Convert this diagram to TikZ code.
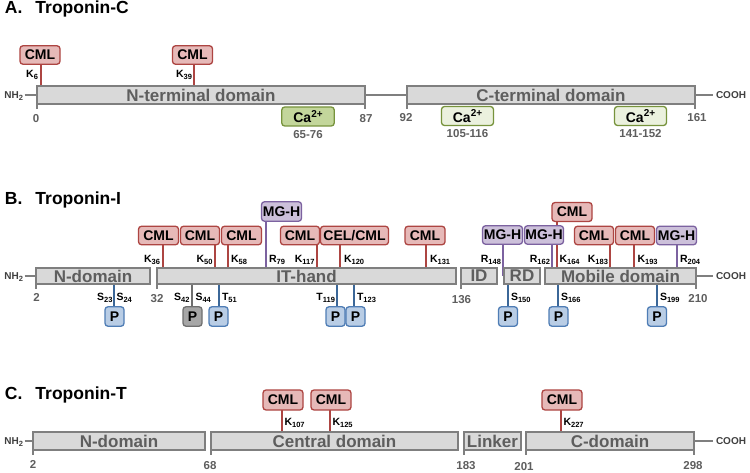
\documentclass[tikz,border=0pt]{standalone}
\usepackage{fontspec}
\setmainfont{Liberation Sans}
\pgfdeclarelayer{bg}
\pgfsetlayers{bg,main}
\definecolor{barfill}{HTML}{D9D9D9}
\definecolor{barline}{HTML}{7F7F7F}
\definecolor{domtext}{HTML}{5E5E5E}
\definecolor{termtext}{HTML}{404040}
\definecolor{cmlfill}{HTML}{E6B9B8}
\definecolor{cmlline}{HTML}{AD4542}
\definecolor{mgfill}{HTML}{CCC0DA}
\definecolor{mgline}{HTML}{7C62A0}
\definecolor{pfill}{HTML}{B9CDE5}
\definecolor{pline}{HTML}{4F7DB5}
\definecolor{pcon}{HTML}{3B6798}
\definecolor{gpfill}{HTML}{A6A6A6}
\definecolor{gpline}{HTML}{6F6F6F}
\definecolor{cadfill}{HTML}{C3D69B}
\definecolor{calfill}{HTML}{EBF1DE}
\definecolor{caline}{HTML}{77933C}
\newcommand\mysub[1]{\raisebox{-0.35ex}{\fontsize{7.5}{7.5}\selectfont #1}}
\newcommand\mysup[1]{\raisebox{0.7ex}{\fontsize{10}{10}\selectfont #1}}
\tikzset{
 every node/.style={inner sep=0pt, outer sep=0pt},
 bar/.style={draw=barline, fill=barfill, line width=1.8pt, text=domtext, font=\bfseries\fontsize{17}{17}\selectfont},
 barl/.style={draw=barline, line width=1.8pt},
 modbox/.style={rounded corners=3pt, line width=1.3pt, font=\bfseries\fontsize{14}{14}\selectfont},
 cml/.style={modbox, draw=cmlline, fill=cmlfill, minimum width=40pt, minimum height=18.5pt},
 mgh/.style={modbox, draw=mgline, fill=mgfill, minimum width=40pt, minimum height=18.5pt},
 pbox/.style={modbox, draw=pline, fill=pfill, minimum width=19pt, minimum height=19.5pt},
 gpbox/.style={modbox, draw=gpline, fill=gpfill, minimum width=19pt, minimum height=19.5pt},
 cad/.style={modbox, draw=caline, fill=cadfill, minimum width=52.5pt, minimum height=19pt},
 cal/.style={modbox, draw=caline, fill=calfill, minimum width=52pt, minimum height=19pt},
 cmlc/.style={draw=cmlline, line width=1.6pt},
 mgc/.style={draw=mgline, line width=1.6pt},
 pc/.style={draw=pcon, line width=1.6pt},
 gpc/.style={draw=gpline, line width=1.6pt},
 site/.style={font=\bfseries\fontsize{10.5}{10.5}\selectfont},
 num/.style={text=domtext, font=\bfseries\fontsize{11.5}{11.5}\selectfont, anchor=base},
 term/.style={text=termtext, font=\bfseries\fontsize{10}{10}\selectfont},
 ttl/.style={font=\bfseries\fontsize{17.5}{17.5}\selectfont, anchor=base west},
}
\begin{document}
\begin{tikzpicture}[x=1pt,y=-1pt]
\useasboundingbox (0,0) rectangle (750,473);
\begin{pgfonlayer}{bg}
 \fill[white] (0,0) rectangle (750,473);
\end{pgfonlayer}

% ---------------- A. Troponin-C ----------------
\node[ttl] (tA) at (5,14) {A.\hspace{13pt}Troponin-C};
\node[bar, minimum width=328pt, minimum height=18pt] (ntd) at (201,95) {N-terminal domain};
\node[bar, minimum width=288pt, minimum height=17.5pt] (ctd) at (551,95) {C-terminal domain};
\node[term, anchor=base east] (nh2A) at (23,99) {NH\mysub{2}};
\node[term, anchor=base west] (coA) at (716,98.5) {COOH};
\node[cml] (c6) at (40,55) {CML};
\node[cml] (c39) at (192.5,55) {CML};
\node[site, anchor=base east] (lK6) at (38,78) {K\mysub{6}};
\node[site, anchor=base east] (lK39) at (192,78) {K\mysub{39}};
\node[cad] (ca1) at (308,116.5) {Ca\mysup{2+}};
\node[cal] (ca2) at (467.5,116) {Ca\mysup{2+}};
\node[cal] (ca3) at (640.5,116) {Ca\mysup{2+}};
\node[num] (r1) at (308,139) {65-76};
\node[num] (r2) at (467.5,138) {105-116};
\node[num] (r3) at (640.5,138) {141-152};
\node[num] (n0) at (36,123) {0};
\node[num] (n87) at (366,123) {87};
\node[num] (n92) at (406,122) {92};
\node[num] (n161) at (697,122) {161};
\coordinate (s6) at (41,95);
\coordinate (s39) at (194,95);

% ---------------- B. Troponin-I ----------------
\node[ttl] (tB) at (5,205) {B.\hspace{13pt}Troponin-I};
\node[bar, minimum width=114pt, minimum height=16.5pt] (ndI) at (93,276) {N-domain};
\node[bar, minimum width=299pt, minimum height=16.5pt] (itI) at (306.5,276) {IT-hand};
\node[bar, minimum width=36pt, minimum height=16.5pt] (idI) at (479,276) {ID};
\node[bar, minimum width=36pt, minimum height=16.5pt] (rdI) at (522,276) {RD};
\node[bar, minimum width=151pt, minimum height=16.5pt] (mdI) at (620.5,276) {Mobile domain};
\node[term, anchor=base east] (nh2B) at (23,279.5) {NH\mysub{2}};
\node[term, anchor=base west] (coB) at (716,279.5) {COOH};
\node[num] (nI2) at (36.5,301.5) {2};
\node[num] (nI32) at (157,302) {32};
\node[num] (nI136) at (461.5,303) {136};
\node[num] (nI210) at (698,302.5) {210};

\node[cml] (b36) at (158.5,235.5) {CML};
\node[cml, minimum width=39pt] (b50) at (200,235.5) {CML};
\node[cml] (b58) at (241.5,235.5) {CML};
\node[mgh, minimum height=19.5pt] (bR79) at (281.5,211.5) {MG-H};
\node[cml, minimum width=39pt] (b117) at (300,235.5) {CML};
\node[cml, minimum width=68pt] (b120) at (354.5,235.5) {CEL/CML};
\node[cml] (b131) at (425,235.5) {CML};
\node[mgh] (bR148) at (502.5,235) {MG-H};
\node[mgh, minimum width=39pt] (bR162) at (544,235) {MG-H};
\node[cml, minimum height=19pt] (b164) at (572,212) {CML};
\node[cml, minimum width=39pt] (b183) at (594,235.5) {CML};
\node[cml, minimum width=39pt] (b193) at (635,235.5) {CML};
\node[mgh] (bR204) at (676.5,235.5) {MG-H};

\node[site, anchor=base east] (lK36) at (160,262.5) {K\mysub{36}};
\node[site, anchor=base east] (lK50) at (212.5,262.5) {K\mysub{50}};
\node[site, anchor=base west] (lK58) at (231,262.5) {K\mysub{58}};
\node[site, anchor=base west] (lR79) at (269,262.5) {R\mysub{79}};
\node[site, anchor=base east] (lK117) at (314.5,262.5) {K\mysub{117}};
\node[site, anchor=base west] (lK120) at (344,262.5) {K\mysub{120}};
\node[site, anchor=base west] (lK131) at (430,262.5) {K\mysub{131}};
\node[site, anchor=base east] (lR148) at (501,262.5) {R\mysub{148}};
\node[site, anchor=base east] (lR162) at (550,262.5) {R\mysub{162}};
\node[site, anchor=base west] (lK164) at (559.5,262.5) {K\mysub{164}};
\node[site, anchor=base east] (lK183) at (608,262.5) {K\mysub{183}};
\node[site, anchor=base west] (lK193) at (637.5,262.5) {K\mysub{193}};
\node[site, anchor=base west] (lR204) at (680,262.5) {R\mysub{204}};

\node[pbox] (p23) at (114.5,316.5) {P};
\node[gpbox] (p42) at (192.5,316.5) {P};
\node[pbox] (p51) at (218.5,316.5) {P};
\node[pbox] (p119) at (335.5,316.5) {P};
\node[pbox] (p123) at (355.5,316.5) {P};
\node[pbox] (p150) at (508,316.5) {P};
\node[pbox] (p166) at (558.5,316.5) {P};
\node[pbox] (p199) at (657,316.5) {P};

\node[site, anchor=base east] (lS23) at (112.5,301) {S\mysub{23}};
\node[site, anchor=base west] (lS24) at (116.5,301) {S\mysub{24}};
\node[site, anchor=base east] (lS42) at (189.5,301) {S\mysub{42}};
\node[site, anchor=base west] (lS44) at (195.5,301) {S\mysub{44}};
\node[site, anchor=base west] (lT51) at (222,301) {T\mysub{51}};
\node[site, anchor=base east] (lT119) at (335,301) {T\mysub{119}};
\node[site, anchor=base west] (lT123) at (357,301) {T\mysub{123}};
\node[site, anchor=base west] (lS150) at (511,301) {S\mysub{150}};
\node[site, anchor=base west] (lS166) at (561,301) {S\mysub{166}};
\node[site, anchor=base west] (lS199) at (660,301) {S\mysub{199}};

\foreach \n/\x in {k36/163,k50/215,k58/228,r79/266,k117/317,k120/340,k131/426,r148/503,r162/552,k164/557,k183/610,k193/634,r204/677,s23/114,s42/192,t51/219,t119/337,t123/354,s150/508,s166/558,s199/657}
  \coordinate (\n) at (\x,276);

% ---------------- C. Troponin-T ----------------
\node[ttl] (tC) at (5,399) {C.\hspace{13pt}Troponin-T};
\node[bar, minimum width=172pt, minimum height=18pt] (ndT) at (119,441) {N-domain};
\node[bar, minimum width=247pt, minimum height=18pt] (cdT) at (334.5,441) {Central domain};
\node[bar, minimum width=57pt, minimum height=18pt] (lkT) at (492.5,441) {Linker};
\node[bar, minimum width=168pt, minimum height=18pt] (cT) at (610,441) {C-domain};
\node[term, anchor=base east] (nh2C) at (23,444.5) {NH\mysub{2}};
\node[term, anchor=base west] (coC) at (716,444.5) {COOH};
\node[num] (nT2) at (33,468) {2};
\node[num] (nT68) at (210,469.5) {68};
\node[num] (nT183) at (466,469.5) {183};
\node[num] (nT201) at (524,470.5) {201};
\node[num] (nT298) at (693,469.5) {298};
\node[cml, minimum height=20pt] (k107b) at (283,400) {CML};
\node[cml, minimum height=20pt] (k125b) at (331,400) {CML};
\node[cml, minimum height=20pt] (k227b) at (562,400) {CML};
\node[site, anchor=base west] (lK107) at (284.5,425.5) {K\mysub{107}};
\node[site, anchor=base west] (lK125) at (332.5,425.5) {K\mysub{125}};
\node[site, anchor=base west] (lK227) at (563.5,425.5) {K\mysub{227}};
\coordinate (k107) at (282,441);
\coordinate (k125) at (330,441);
\coordinate (k227) at (561,441);

% ---------------- connectors (behind) ----------------
\begin{pgfonlayer}{bg}
 % Troponin-C
 \draw[barl, shorten <=1.5pt] (nh2A.east |- ntd.west) -- (ntd.west);
 \draw[barl] (ntd.east) -- (ctd.west);
 \draw[barl, shorten >=3pt] (ctd.east) -- (coA.west |- ctd.east);
 \foreach \a in {ntd.south west, ntd.south east, ctd.south west, ctd.south east}
   \draw[barl] (\a) -- ++(0,5);
 \draw[cmlc] (s6) -- (s6 |- c6.south);
 \draw[cmlc] (s39) -- (s39 |- c39.south);
 % Troponin-I
 \draw[barl, shorten <=1.5pt] (nh2B.east |- ndI.west) -- (ndI.west);
 \draw[barl, shorten >=3pt] (mdI.east) -- (coB.west |- mdI.east);
 \foreach \a in {ndI.south west, itI.south west, idI.south west, mdI.south east}
   \draw[barl] (\a) -- ++(0,5);
 \draw[cmlc] (k36) -- (k36 |- b36.south);
 \draw[cmlc] (k50) -- (k50 |- b50.south);
 \draw[cmlc] (k58) -- (k58 |- b58.south);
 \draw[mgc] (r79) -- (r79 |- bR79.south);
 \draw[cmlc] (k117) -- (k117 |- b117.south);
 \draw[cmlc] (k120) -- (k120 |- b120.south);
 \draw[cmlc] (k131) -- (k131 |- b131.south);
 \draw[mgc] (r148) -- (r148 |- bR148.south);
 \draw[mgc] (r162) -- (r162 |- bR162.south);
 \draw[cmlc] (k164) -- (k164 |- b164.south);
 \draw[cmlc] (k183) -- (k183 |- b183.south);
 \draw[cmlc] (k193) -- (k193 |- b193.south);
 \draw[mgc] (r204) -- (r204 |- bR204.south);
 \draw[pc] (s23) -- (s23 |- p23.north);
 \draw[gpc] (s42) -- (s42 |- p42.north);
 \draw[pc] (t51) -- (t51 |- p51.north);
 \draw[pc] (t119) -- (t119 |- p119.north);
 \draw[pc] (t123) -- (t123 |- p123.north);
 \draw[pc] (s150) -- (s150 |- p150.north);
 \draw[pc] (s166) -- (s166 |- p166.north);
 \draw[pc] (s199) -- (s199 |- p199.north);
 % Troponin-T
 \draw[barl, shorten <=1.5pt] (nh2C.east |- ndT.west) -- (ndT.west);
 \draw[barl, shorten >=3pt] (cT.east) -- (coC.west |- cT.east);
 \foreach \a in {ndT.south west, cdT.south west, lkT.south west, cT.south west, cT.south east}
   \draw[barl] (\a) -- ++(0,5);
 \draw[cmlc] (k107) -- (k107 |- k107b.south);
 \draw[cmlc] (k125) -- (k125 |- k125b.south);
 \draw[cmlc] (k227) -- (k227 |- k227b.south);
\end{pgfonlayer}
\end{tikzpicture}
\end{document}
